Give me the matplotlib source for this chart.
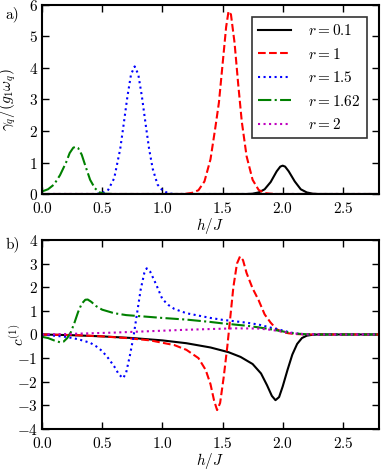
import matplotlib
matplotlib.use('Agg')
import matplotlib.pyplot as plt

plt.rcParams['font.family'] = 'serif'
plt.rcParams['font.serif'] = ['cmr10', 'DejaVu Serif']
plt.rcParams['mathtext.fontset'] = 'cm'
plt.rcParams['axes.formatter.use_mathtext'] = True
plt.rcParams['font.size'] = 11

labels = ['$r = 0.1$', '$r = 1$', '$r = 1.5$', '$r = 1.62$', '$r = 2$']

# panel a) gamma_q / (g1 omega_q)
xa_01 = [0.0, 1.7, 1.75, 1.8, 1.85, 1.9, 1.95, 1.98, 2.0, 2.02, 2.05, 2.1, 2.15, 2.2, 2.25, 2.3, 2.8]
ya_01 = [0.0, 0.0, 0.01, 0.05, 0.15, 0.38, 0.72, 0.87, 0.9, 0.87, 0.72, 0.4, 0.15, 0.05, 0.01, 0.0, 0.0]

xa_1 = [0.0, 1.15, 1.2, 1.25, 1.3, 1.35, 1.4, 1.44, 1.47, 1.5, 1.53, 1.55, 1.57, 1.6, 1.63, 1.66, 1.7,
        1.75, 1.8, 1.85, 1.9, 1.95, 2.8]
ya_1 = [0.0, 0.0, 0.01, 0.04, 0.12, 0.4, 1.1, 2.1, 2.9, 4.1, 5.3, 5.8, 5.7, 4.8, 3.5, 2.3, 1.2,
        0.45, 0.13, 0.03, 0.01, 0.0, 0.0]

xa_15 = [0.0, 0.45, 0.5, 0.55, 0.6, 0.65, 0.68, 0.71, 0.74, 0.77, 0.8, 0.83, 0.86, 0.89, 0.92,
         0.96, 1.0, 1.05, 1.1, 2.8]
ya_15 = [0.0, 0.0, 0.03, 0.13, 0.5, 1.43, 2.25, 3.1, 3.8, 4.05, 3.8, 3.1, 2.25, 1.43, 0.8,
         0.3, 0.12, 0.02, 0.0, 0.0]

xa_162 = [0.0, 0.05, 0.1, 0.15, 0.2, 0.23, 0.26, 0.28, 0.3, 0.33, 0.36, 0.4, 0.44, 0.48, 0.52, 0.6, 2.8]
ya_162 = [0.08, 0.15, 0.3, 0.6, 1.0, 1.3, 1.47, 1.5, 1.46, 1.25, 0.9, 0.45, 0.18, 0.05, 0.01, 0.0, 0.0]

xa_2 = [0.0, 2.8]
ya_2 = [0.0, 0.0]

# panel b) c^(1)
xb_01 = [0.0, 0.25, 0.5, 0.75, 1.0, 1.2, 1.4, 1.55, 1.65, 1.75, 1.82, 1.87, 1.91, 1.94, 1.97, 2.0,
         2.04, 2.08, 2.12, 2.16, 2.2, 2.25, 2.3, 2.8]
yb_01 = [0.0, -0.03, -0.08, -0.15, -0.25, -0.37, -0.55, -0.75, -0.95, -1.25, -1.65, -2.15, -2.6,
         -2.78, -2.65, -2.2, -1.5, -0.85, -0.4, -0.15, -0.05, -0.01, 0.0, 0.0]

xb_1 = [0.0, 0.3, 0.5, 0.7, 0.9, 1.1, 1.2, 1.3, 1.36, 1.4, 1.43, 1.455, 1.48, 1.51, 1.54, 1.56,
        1.59, 1.62, 1.645, 1.67, 1.7, 1.75, 1.8, 1.85, 1.9, 1.95, 2.0, 2.05, 2.1, 2.2, 2.8]
yb_1 = [0.0, -0.03, -0.08, -0.15, -0.25, -0.45, -0.65, -1.0, -1.5, -2.1, -2.8, -3.2, -2.9, -1.8,
        -0.5, 0.5, 2.0, 3.0, 3.3, 3.15, 2.6, 1.95, 1.45, 0.85, 0.5, 0.22, 0.1, 0.05, 0.02, 0.0, 0.0]

xb_15 = [0.0, 0.1, 0.2, 0.3, 0.4, 0.45, 0.5, 0.55, 0.6, 0.64, 0.675, 0.7, 0.73, 0.76, 0.79, 0.82,
         0.85, 0.87, 0.9, 0.95, 1.0, 1.05, 1.1, 1.2, 1.3, 1.4, 1.5, 1.6, 1.7, 1.8, 1.9, 2.0,
         2.05, 2.1, 2.15, 2.2, 2.8]
yb_15 = [0.0, -0.05, -0.1, -0.2, -0.35, -0.5, -0.7, -1.0, -1.35, -1.7, -1.85, -1.6, -0.9, -0.1,
         0.9, 1.9, 2.6, 2.8, 2.65, 2.1, 1.5, 1.25, 1.08, 0.9, 0.8, 0.7, 0.62, 0.56, 0.5, 0.42,
         0.29, 0.17, 0.1, 0.05, 0.02, 0.0, 0.0]

xb_162 = [0.0, 0.05, 0.1, 0.15, 0.18, 0.21, 0.24, 0.27, 0.3, 0.33, 0.36, 0.38, 0.41, 0.45, 0.5,
          0.6, 0.7, 0.8, 0.9, 1.0, 1.2, 1.4, 1.5, 1.6, 1.7, 1.8, 1.9, 2.0, 2.05, 2.1, 2.2, 2.3, 2.8]
yb_162 = [-0.1, -0.15, -0.25, -0.33, -0.3, -0.15, 0.1, 0.5, 0.95, 1.3, 1.47, 1.48, 1.38, 1.2, 1.05,
          0.9, 0.82, 0.78, 0.74, 0.7, 0.63, 0.53, 0.47, 0.42, 0.37, 0.3, 0.22, 0.13, 0.08, 0.04,
          0.01, 0.0, 0.0]

xb_2 = [0.0, 0.2, 0.4, 0.6, 0.8, 1.0, 1.2, 1.4, 1.6, 1.8, 1.9, 2.0, 2.1, 2.2, 2.3, 2.8]
yb_2 = [0.0, 0.02, 0.05, 0.08, 0.12, 0.16, 0.2, 0.23, 0.26, 0.25, 0.2, 0.12, 0.04, 0.01, 0.0, 0.0]

colors = ['k', 'r', 'b', (0, 0.5, 0), (0.75, 0, 0.75)]
styles = ['-', '--', ':', '-.', ':']

fig = plt.figure(figsize=(3.81, 4.71), dpi=100)
ax1 = fig.add_axes([0.1102, 0.5881, 0.8845, 0.4013])
ax2 = fig.add_axes([0.1102, 0.0892, 0.8845, 0.4013])

top = [(xa_01, ya_01), (xa_1, ya_1), (xa_15, ya_15), (xa_162, ya_162), (xa_2, ya_2)]
bot = [(xb_01, yb_01), (xb_1, yb_1), (xb_15, yb_15), (xb_162, yb_162), (xb_2, yb_2)]

for i in range(5):
    ax1.plot(top[i][0], top[i][1], color=colors[i], ls=styles[i], lw=1.5, label=labels[i])
    ax2.plot(bot[i][0], bot[i][1], color=colors[i], ls=styles[i], lw=1.5)

ax1.set_xlim(0, 2.8)
ax1.set_ylim(0, 6)
ax2.set_xlim(0, 2.8)
ax2.set_ylim(-4, 4)

for ax in (ax1, ax2):
    ax.set_xticks([0.0, 0.5, 1.0, 1.5, 2.0, 2.5])
    ax.set_xticklabels(['$0.0$', '$0.5$', '$1.0$', '$1.5$', '$2.0$', '$2.5$'])
    ax.tick_params(direction='in', top=True, right=True, length=5, width=1, pad=3)
    ax.tick_params(axis='x', pad=5)
    for s in ax.spines.values():
        s.set_linewidth(1.5)
    ax.set_xlabel('$h/J$', labelpad=0)

ax1.set_yticks(range(0, 7))
ax2.set_yticks(range(-4, 5))
ax1.set_ylabel(r'$\gamma_q/(g_1\omega_q)$')
ax1.yaxis.set_label_coords(-0.072, 0.5)
ax2.set_ylabel(r'$c^{(1)}$')
ax2.yaxis.set_label_coords(-0.045, 0.5)

leg = ax1.legend(loc='upper right', fancybox=False, handlelength=2.2, labelspacing=0.55,
                 borderaxespad=0.8, handletextpad=1.1, fontsize=11)
leg.get_frame().set_edgecolor('k')
leg.get_frame().set_linewidth(1.2)

fig.text(0.015, 0.962, 'a)', fontsize=11)
fig.text(0.015, 0.472, 'b)', fontsize=11)

fig.savefig('out.png', dpi=100)
